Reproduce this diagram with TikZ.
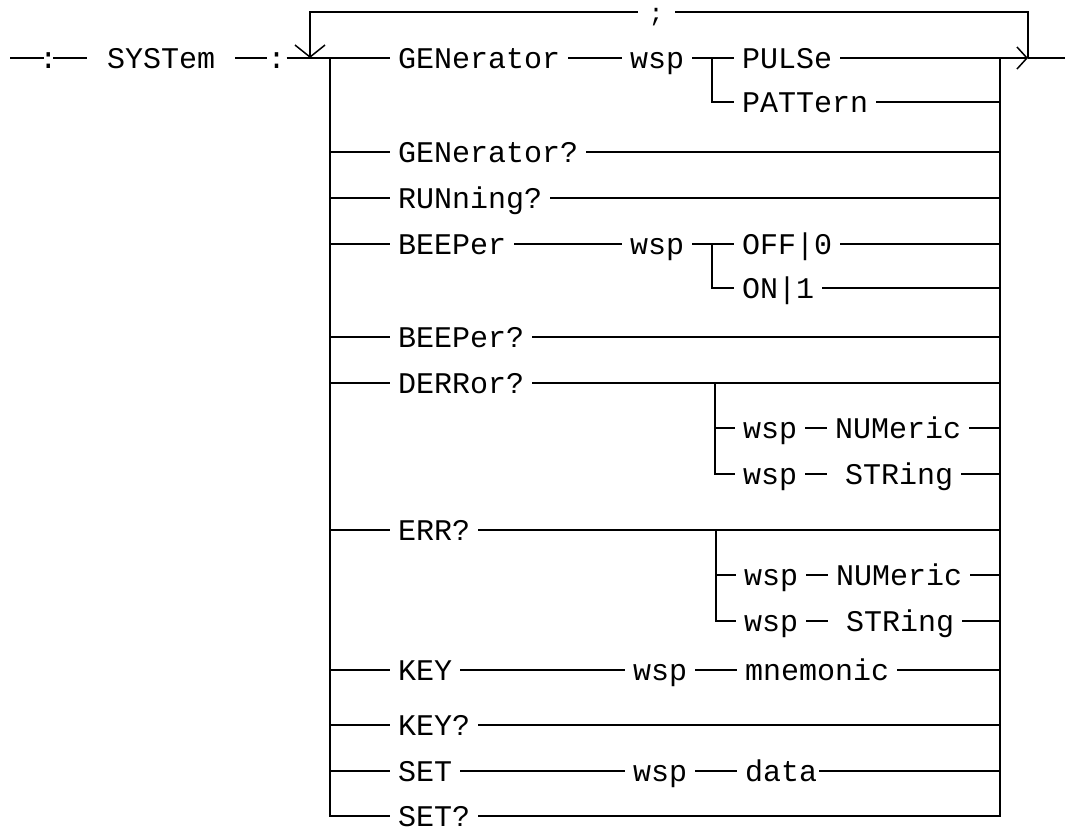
\documentclass[tikz,border=0pt]{standalone}
\usepackage{fontspec}
\newfontfamily\plotfont{Liberation Mono}
\usetikzlibrary{arrows.meta}
\begin{document}
\begin{tikzpicture}[x=1pt,y=-1pt,line width=1.5pt,
  lbl/.style={font=\plotfont\fontsize{30}{30}\selectfont,inner sep=0pt,outer xsep=8pt,outer ysep=0pt,text height=20pt,text depth=0pt,anchor=west},
  colon/.style={lbl,outer xsep=1pt,anchor=center},
  barbdown/.style={-{Straight Barb[length=12pt,width=30pt]}},
  barbright/.style={-{Straight Barb[length=10pt,width=22pt]}}]
\useasboundingbox (0,0) rectangle (1065,835);
% entry
\coordinate (start) at (10,58);
\node[colon] (c1) at (48.5,58) {\makebox[7pt]{:}};
\node[lbl,outer xsep=20pt] (sys) at (87,58) {SYSTem};
\node[colon,outer xsep=2pt] (c2) at (276.5,58) {\makebox[16pt]{:}};
\coordinate (LC) at (310,58);
\coordinate (BL) at (330,58);
\coordinate (BR) at (1000,58);
\coordinate (RC) at (1028,58);
\coordinate (exit) at (1065,58);
% loop
\node[font=\plotfont\fontsize{25}{25}\selectfont,inner sep=0pt,outer xsep=11pt,text height=18pt,text depth=0pt,anchor=base] (semi) at (656,21) {;};
% rows
\node[lbl] (gen) at (390,58) {GENerator};
\node[lbl] (wspa) at (622,58) {wsp};
\node[lbl] (pulse) at (734,58) {PULSe};
\node[lbl] (patt) at (734,102) {PATTern};
\coordinate (tb1) at (712,58);
\node[lbl] (genq) at (390,152) {GENerator?};
\node[lbl] (runq) at (390,198) {RUNning?};
\node[lbl] (beep) at (390,244) {BEEPer};
\node[lbl] (wspb) at (622,244) {wsp};
\node[lbl] (off) at (734,244) {OFF|0};
\node[lbl] (on) at (734,288) {ON|1};
\coordinate (tb2) at (712,244);
\node[lbl] (beepq) at (390,337) {BEEPer?};
\node[lbl] (derr) at (390,383) {DERRor?};
\coordinate (sb1) at (715,383);
\node[lbl] (wspc) at (735,428) {wsp};
\node[lbl] (numa) at (827,428) {NUMeric};
\node[lbl] (wspd) at (735,474) {wsp};
\node[lbl] (stra) at (827,474) {\hspace*{10pt}STRing};
\node[lbl] (err) at (390,530) {ERR?};
\coordinate (sb2) at (716,530);
\node[lbl] (wspe) at (736,575) {wsp};
\node[lbl] (nume) at (828,575) {NUMeric};
\node[lbl] (wspf) at (736,621) {wsp};
\node[lbl] (strf) at (828,621) {\hspace*{10pt}STRing};
\node[lbl] (key) at (390,670) {KEY};
\node[lbl] (wspk) at (625,670) {wsp};
\node[lbl] (mnem) at (737,670) {mnemonic};
\node[lbl] (keyq) at (390,725) {KEY?};
\node[lbl] (set) at (390,771) {SET};
\node[lbl] (wsps) at (625,771) {wsp};
\node[lbl,outer xsep=2pt] (data) at (737,771) {\hspace*{6pt}data};
\node[lbl] (setq) at (390,816) {SET?};
% entry lines
\draw (start) -- (c1.west);
\draw (c1.east) -- (sys.west);
\draw (sys.east) -- (c2.west);
\draw (c2.east) -- (gen.west);
% loop and exit
\draw[barbright] (pulse.east) -- (RC);
\draw (RC) -- (exit);
\draw (RC) -- (RC |- semi.east) -- (semi.east);
\draw[barbdown] (semi.west) -- (LC |- semi.west) -- (LC);
% buses
\draw (BL) -- (BL |- setq.west) -- (setq.west);
\draw (BR) -- (BR |- setq.east) -- (setq.east);
% row 1
\draw (gen.east) -- (wspa.west);
\draw (wspa.east) -- (pulse.west);
\draw (tb1) -- (tb1 |- patt.west) -- (patt.west);
\draw (patt.east) -- (patt.east -| BR);
% simple rows
\foreach \n in {genq,runq,beep,beepq,derr,err,key,keyq,set} {
  \draw (BL |- \n.west) -- (\n.west);
}
\foreach \n in {genq,runq,off,on,beepq,derr,numa,stra,err,nume,strf,mnem,keyq,data} {
  \draw (\n.east) -- (\n.east -| BR);
}
% beeper
\draw (beep.east) -- (wspb.west);
\draw (wspb.east) -- (off.west);
\draw (tb2) -- (tb2 |- on.west) -- (on.west);
% derror
\draw (sb1) -- (sb1 |- wspd.west) -- (wspd.west);
\draw (sb1 |- wspc.west) -- (wspc.west);
\draw (wspc.east) -- (numa.west);
\draw (wspd.east) -- (stra.west);
% err
\draw (sb2) -- (sb2 |- wspf.west) -- (wspf.west);
\draw (sb2 |- wspe.west) -- (wspe.west);
\draw (wspe.east) -- (nume.west);
\draw (wspf.east) -- (strf.west);
% key / set
\draw (key.east) -- (wspk.west);
\draw (wspk.east) -- (mnem.west);
\draw (set.east) -- (wsps.west);
\draw (wsps.east) -- (data.west);
\end{tikzpicture}
\end{document}
